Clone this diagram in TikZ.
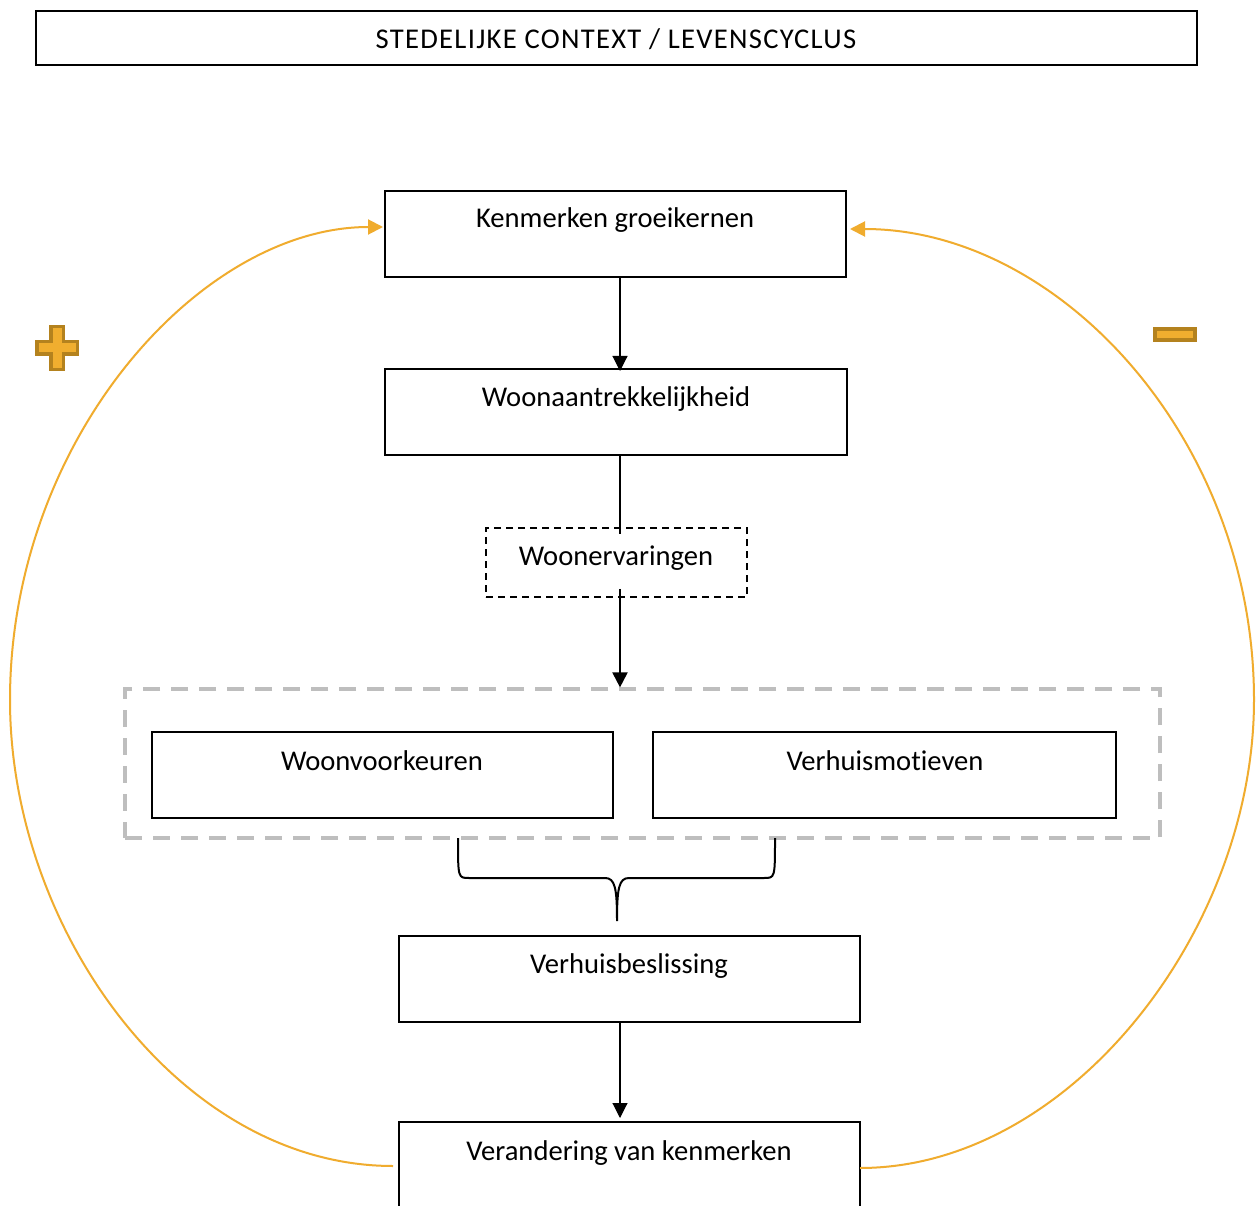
\documentclass[tikz,border=0pt]{standalone}
\usepackage{fontspec}
\setmainfont{Carlito}[Ligatures=NoCommon]
\usetikzlibrary{arrows.meta,calc}
\definecolor{orng}{RGB}{240,172,46}
\definecolor{plusfill}{RGB}{240,174,47}
\definecolor{plusedge}{RGB}{180,130,30}
\definecolor{grayd}{RGB}{190,190,190}
\begin{document}
\begin{tikzpicture}[x=1pt,y=-1pt,
  box/.style={draw=black,line width=2pt,inner sep=0pt},
  dbox/.style={draw=black,line width=1.6pt,dash pattern=on 7pt off 5pt,inner sep=0pt},
  gbox/.style={draw=grayd,line width=3.2pt,dash pattern=on 17pt off 11pt,inner sep=0pt},
  lbl/.style={font=\fontsize{28.6}{32}\selectfont,inner sep=0pt,anchor=base},
  arr/.style={draw=black,line width=1.1pt,-{Triangle[length=15pt,width=15pt]}},
  conn/.style={draw=black,line width=2pt},
  oarr/.style={draw=orng,line width=2pt,-{Triangle[length=15pt,width=15pt]}},
  signs/.style={fill=plusfill,draw=plusedge,line width=3.5pt}
]
\useasboundingbox (0,0) rectangle (1256,1206);
\fill[white] (0,0) rectangle (1256,1206);

% boxes
\node[box,minimum width=1161pt,minimum height=54pt] (ctx) at (616.5,38) {};
\node[lbl,font=\fontsize{28.6}{32}\selectfont\addfontfeature{LetterSpace=4.5}] (tctx) at (616,49) {STEDELIJKE CONTEXT / LEVENSCYCLUS};

\node[box,minimum width=461pt,minimum height=86pt] (b1) at (615.5,234) {};
\node[lbl] (t1) at (615,228) {Kenmerken groeikernen};

\node[box,minimum width=462pt,minimum height=86pt] (b2) at (616,412) {};
\node[lbl] (t2) at (616,406) {Woonaantrekkelijkheid};

\node[dbox,minimum width=261pt,minimum height=69pt] (we) at (616.5,562.5) {};
\node[lbl] (t3) at (616,565) {Woonervaringen};

\node[gbox,minimum width=1035pt,minimum height=149pt] (grp) at (642.5,763.5) {};

\node[box,minimum width=461pt,minimum height=86pt] (wv) at (382.5,775) {};
\node[lbl] (t4) at (382,770) {Woonvoorkeuren};

\node[box,minimum width=463pt,minimum height=86pt] (vm) at (884.5,775) {};
\node[lbl] (t5) at (885,770) {Verhuismotieven};

\node[box,minimum width=461pt,minimum height=86pt] (vb) at (629.5,979) {};
\node[lbl] (t6) at (629,973) {Verhuisbeslissing};

\node[box,minimum width=461pt,minimum height=120pt] (vk) at (629.5,1182) {};
\node[lbl] (t7) at (629,1160) {Verandering van kenmerken};

% vertical connectors
\coordinate (ax) at (620,0);
\draw[arr] (ax |- b1.south) -- ($(ax |- b2.north)+(0,3)$);
\draw[conn] (ax |- b2.south) -- ($(ax |- we.north)+(0,7)$);
\draw[arr,line width=2pt] ($(ax |- we.south)+(0,-9)$) -- (ax |- grp.north);
\draw[arr] (ax |- vb.south) -- ($(ax |- vk.north)+(0,-3)$);

% brace
\coordinate (bl) at (458,838);
\coordinate (br) at (775,838);
\coordinate (bc) at (617,921);
\draw[line width=2pt] (bl) .. controls (458,878) and (458,878) .. (469,878) -- (605,878)
  .. controls (615,878) and (617,888) .. (bc)
  .. controls (617,888) and (619,878) .. (629,878) -- (764,878)
  .. controls (775,878) and (775,878) .. (br);

% orange feedback curves
\coordinate (lstart) at (393,1166);
\coordinate (lmid) at (10,700);
\coordinate (lend) at (383,227);
\draw[oarr] (lstart) .. controls (180,1166) and (10,930) .. (lmid)
  .. controls (10,440) and (200,227) .. (lend);
\coordinate (rstart) at (860,1168);
\coordinate (rmid) at (1254,700);
\coordinate (rend) at (850,229);
\draw[oarr] (rstart) .. controls (1070,1168) and (1254,930) .. (rmid)
  .. controls (1254,440) and (1060,229) .. (rend);

% plus and minus signs
\draw[signs] (50.75,326.75) -- (63.25,326.75) -- (63.25,341.75) -- (77.25,341.75) -- (77.25,354.25)
  -- (63.25,354.25) -- (63.25,369.25) -- (50.75,369.25) -- (50.75,354.25) -- (36.75,354.25)
  -- (36.75,341.75) -- (50.75,341.75) -- cycle;
\draw[signs] (1155,329) rectangle (1195,340);
\end{tikzpicture}
\end{document}
